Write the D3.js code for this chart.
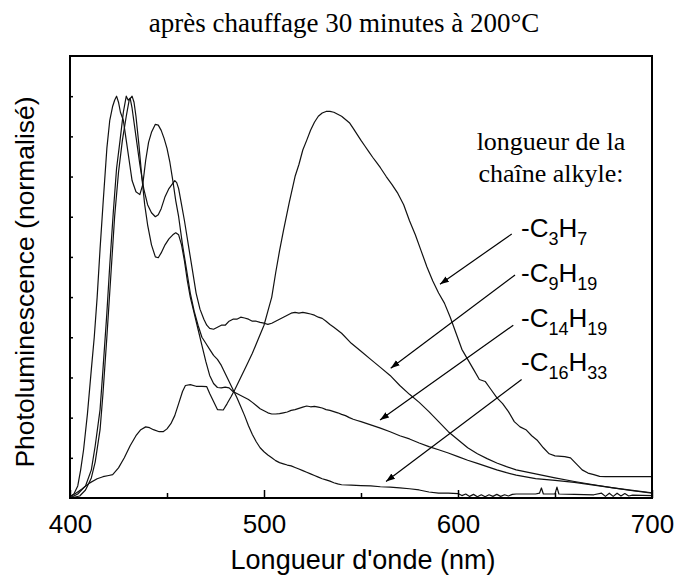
<!DOCTYPE html>
<html>
<head>
<meta charset="utf-8">
<script src="https://cdn.jsdelivr.net/npm/d3@7"></script>
<style>
  html, body { margin: 0; padding: 0; background: #fff; }
  svg { display: block; }
</style>
</head>
<body>
<svg id="chart" width="676" height="579"></svg>
<script>
// ---------- data ----------
const titleText = "après chauffage 30 minutes à 200°C";
const xLabel = "Longueur d'onde (nm)";
const yLabel = "Photoluminescence (normalisé)";
const xTickLabels = [400, 500, 600, 700];
const xMinorTicks = [450, 550, 650];
const yTicks = [0.1, 0.2, 0.3, 0.4, 0.5, 0.6, 0.7, 0.8, 0.9, 1.0];
const legendTitle = ["longueur de la", "chaîne alkyle:"];
const seriesNames = [["-C", "3", "H", "7"], ["-C", "9", "H", "19"], ["-C", "14", "H", "19"], ["-C", "16", "H", "33"]];

// [wavelength nm, normalised PL]
const c3h7 = [[400,0.003],[403,0.012],[406,0.022],[410,0.037],[414,0.048],[417,0.053],[420,0.056],[422,0.058],[425,0.075],[428,0.1],[431,0.13],[434,0.155],[436.5,0.17],[439,0.177],[441,0.175],[443,0.17],[446,0.165],[448,0.165],[450,0.172],[452,0.185],[454,0.205],[456,0.235],[458,0.265],[459.5,0.28],[462,0.282],[465,0.278],[468,0.278],[470.5,0.277],[472,0.26],[474,0.24],[476,0.22],[479,0.219],[481,0.235],[483,0.252],[485,0.27],[488,0.3],[491,0.33],[494,0.36],[497,0.395],[500,0.43],[502,0.465],[504,0.5],[506,0.56],[508,0.615],[510,0.665],[513,0.735],[516,0.8],[518,0.83],[520,0.866],[522,0.89],[524,0.915],[526,0.935],[528,0.95],[530,0.958],[532,0.962],[534,0.962],[536,0.96],[538,0.955],[540,0.95],[542,0.942],[544,0.934],[546,0.92],[548,0.905],[550,0.89],[552,0.876],[554,0.862],[556,0.848],[558,0.835],[560,0.822],[563,0.8],[566,0.78],[569,0.758],[572,0.73],[575,0.69],[578,0.655],[581,0.615],[584,0.575],[587,0.54],[590,0.51],[593,0.485],[596,0.45],[599,0.41],[602,0.37],[605,0.345],[608,0.32],[611,0.295],[614,0.29],[617,0.27],[620,0.25],[623,0.235],[626,0.215],[629,0.19],[632,0.177],[635,0.17],[638,0.155],[641,0.143],[644,0.125],[647,0.11],[650,0.105],[655,0.103],[658,0.1],[661,0.085],[664,0.07],[667,0.062],[670,0.058],[673,0.054],[676,0.053],[700,0.053]];

const c9h19 = [[400,0],[404,0.01],[408,0.03],[411,0.07],[413,0.13],[415.5,0.22],[417,0.32],[419,0.46],[420.5,0.58],[422.3,0.71],[424,0.82],[425.8,0.89],[427.5,0.96],[429,1.0],[430,0.99],[431,0.995],[432,0.97],[434,0.9],[436,0.83],[438,0.77],[440,0.73],[442,0.71],[444,0.7],[445.5,0.705],[447,0.72],[449,0.75],[451,0.77],[452.5,0.78],[454,0.79],[455,0.785],[456,0.77],[457.5,0.73],[459,0.69],[461,0.63],[463,0.57],[465,0.51],[467,0.47],[469,0.445],[470.5,0.43],[472,0.422],[474,0.42],[476,0.425],[478,0.43],[480,0.43],[482,0.44],[484,0.445],[486,0.445],[488,0.45],[490,0.448],[492,0.445],[494,0.44],[496,0.44],[498,0.437],[500,0.435],[502,0.432],[504,0.435],[506,0.44],[508,0.445],[510,0.45],[512,0.455],[514,0.46],[516,0.462],[518,0.46],[520,0.462],[522,0.46],[524,0.458],[526,0.455],[528,0.45],[530,0.447],[532,0.44],[534,0.432],[536,0.425],[540,0.41],[545,0.385],[550,0.365],[555,0.345],[560,0.325],[565,0.305],[570,0.28],[575,0.258],[580,0.238],[585,0.215],[590,0.19],[595,0.165],[600,0.145],[605,0.125],[610,0.11],[615,0.098],[620,0.087],[625,0.078],[630,0.07],[640,0.06],[650,0.05],[660,0.041],[670,0.033],[680,0.025],[690,0.018],[700,0.012]];

const c14h19 = [[400,0],[405,0.005],[408,0.02],[411,0.05],[413,0.09],[415.5,0.17],[417,0.26],[419,0.4],[421,0.55],[423,0.7],[425,0.81],[427,0.89],[429,0.95],[430.5,0.99],[432,1.0],[433,0.985],[434,0.95],[435.5,0.88],[437,0.8],[438.5,0.73],[440,0.68],[442,0.63],[444,0.6],[445.5,0.598],[447,0.61],[449,0.63],[451,0.645],[453,0.655],[454.5,0.66],[456,0.655],[457.5,0.63],[459,0.59],[460.5,0.54],[462,0.5],[464,0.46],[466,0.42],[468,0.38],[470,0.34],[472,0.305],[474,0.285],[476,0.275],[478,0.274],[480,0.276],[482,0.274],[484,0.265],[486,0.26],[488,0.255],[490,0.25],[492,0.245],[494,0.238],[496,0.23],[498,0.222],[500,0.217],[502,0.212],[504,0.209],[506,0.209],[508,0.21],[510,0.212],[512,0.214],[514,0.218],[516,0.22],[518,0.223],[520,0.226],[522,0.229],[524,0.227],[526,0.228],[528,0.226],[530,0.224],[532,0.22],[534,0.218],[536,0.215],[538,0.212],[540,0.208],[542,0.205],[544,0.2],[546,0.196],[548,0.193],[550,0.19],[555,0.182],[560,0.174],[565,0.165],[570,0.155],[575,0.147],[580,0.137],[585,0.128],[590,0.12],[595,0.112],[600,0.103],[605,0.094],[610,0.086],[615,0.078],[620,0.07],[625,0.063],[630,0.057],[640,0.048],[650,0.044],[660,0.039],[670,0.032],[680,0.025],[690,0.019],[700,0.013]];

const c16h33 = [[400,0.003],[402,0.01],[404,0.03],[405.5,0.07],[407,0.12],[409,0.21],[411,0.32],[412.5,0.4],[414,0.5],[415.5,0.62],[417,0.73],[419,0.87],[420.5,0.94],[422,0.975],[423,0.99],[424,1.0],[425,0.985],[426,0.96],[427.5,0.94],[429,0.89],[430.5,0.84],[432,0.79],[434,0.762],[436,0.755],[437.5,0.78],[439,0.84],[440.5,0.885],[442,0.91],[444,0.93],[445.5,0.928],[447,0.915],[448.5,0.895],[450,0.87],[451.5,0.835],[453,0.79],[454.5,0.74],[456,0.7],[458,0.63],[460,0.57],[462,0.51],[464,0.465],[466,0.43],[468,0.4],[470,0.385],[472,0.37],[474,0.355],[476,0.345],[478,0.33],[480,0.31],[482,0.29],[484,0.27],[486,0.25],[488,0.228],[490,0.205],[492,0.18],[494,0.158],[496,0.14],[498,0.125],[500,0.115],[502,0.107],[504,0.1],[506,0.093],[508,0.088],[510,0.085],[512,0.082],[514,0.08],[516,0.076],[518,0.072],[520,0.068],[522,0.064],[524,0.06],[526,0.056],[528,0.052],[530,0.048],[532,0.045],[534,0.042],[536,0.038],[538,0.035],[540,0.033],[545,0.032],[550,0.031],[555,0.03],[560,0.028],[565,0.027],[570,0.025],[575,0.023],[580,0.02],[585,0.015],[590,0.012],[595,0.012],[600,0.011],[602,0.006],[604,0.01],[606,0.004],[608,0.009],[610,0.003],[612,0.008],[614,0.003],[616,0.008],[618,0.004],[620,0.009],[622,0.004],[624,0.008],[626,0.005],[628,0.009],[630,0.01],[640,0.01],[642,0.012],[643,0.025],[644,0.01],[650,0.01],[651,0.027],[652,0.01],[660,0.009],[670,0.008],[674,0.012],[676,0.004],[678,0.012],[680,0.004],[682,0.012],[684,0.005],[686,0.011],[688,0.005],[690,0.007],[700,0.006]];

const series = [c3h7, c9h19, c14h19, c16h33];
// arrow annotations in data units: [x1, y1, x2, y2]
const arrows = [[627.7,0.657,590.7,0.532],[629.4,0.555,565.3,0.323],[628.5,0.43,559.8,0.194],[632.8,0.295,562.9,0.041]];

// ---------- layout ----------
const svg = d3.select("#chart");
const pL = 70, pR = 652, pT = 56, pB = 498;
const x = d3.scaleLinear().domain([400, 700]).range([pL, pR]);
const y = d3.scaleLinear().domain([0, 1.1]).range([pB, pT]);
const sans = "'Liberation Sans', Arial, Helvetica, sans-serif";
const serif = "'Liberation Serif', 'Times New Roman', Times, serif";

const defs = svg.append("defs");
defs.append("clipPath").attr("id", "clip")
  .append("rect").attr("x", pL).attr("y", pT).attr("width", pR - pL).attr("height", pB - pT);
defs.append("marker").attr("id", "ah").attr("viewBox", "0 0 10 10").attr("refX", 10).attr("refY", 5)
  .attr("markerWidth", 9).attr("markerHeight", 9).attr("markerUnits", "userSpaceOnUse").attr("orient", "auto")
  .append("path").attr("d", "M0,1.5 L10,5 L0,8.5 Z").attr("fill", "#000");

// curves
const line = d3.line().x(d => x(d[0])).y(d => y(d[1]));
svg.append("g").attr("clip-path", "url(#clip)")
  .selectAll("path").data(series).join("path")
  .attr("d", line).attr("fill", "none").attr("stroke", "#111").attr("stroke-width", 1.2)
  .attr("stroke-linejoin", "round");

// axes (ticks inward)
const xMajor = d3.axisBottom(x).tickValues(xTickLabels).tickSize(-8).tickPadding(17).tickFormat(d3.format("d"));
const gx = svg.append("g").attr("transform", `translate(0,${pB})`).call(xMajor);
gx.select(".domain").remove();
gx.selectAll("line").attr("stroke", "#000").attr("stroke-width", 1.5);
gx.selectAll("text").attr("font-family", sans).attr("font-size", 26).attr("fill", "#000");
const xMin = d3.axisBottom(x).tickValues(xMinorTicks).tickSize(-5).tickFormat("");
const gxm = svg.append("g").attr("transform", `translate(0,${pB})`).call(xMin);
gxm.select(".domain").remove();
gxm.selectAll("line").attr("stroke", "#000").attr("stroke-width", 1.5);

const yAx = d3.axisLeft(y).tickValues(yTicks).tickSize(-3).tickFormat("");
const gy = svg.append("g").attr("transform", `translate(${pL},0)`).call(yAx);
gy.select(".domain").remove();
gy.selectAll("line").attr("stroke", "#000").attr("stroke-width", 1.5);

// frame
svg.append("rect").attr("x", pL).attr("y", pT).attr("width", pR - pL).attr("height", pB - pT)
  .attr("fill", "none").attr("stroke", "#000").attr("stroke-width", 2);

// title and axis labels
svg.append("text").attr("x", 344).attr("y", 32).attr("text-anchor", "middle")
  .attr("font-family", serif).attr("font-size", 27).text(titleText);
svg.append("text").attr("x", 363).attr("y", 569).attr("text-anchor", "middle")
  .attr("font-family", sans).attr("font-size", 27).text(xLabel);
svg.append("text").attr("transform", "translate(34,282) rotate(-90)").attr("text-anchor", "middle")
  .attr("font-family", sans).attr("font-size", 26.5).text(yLabel);

// legend block
svg.append("g").selectAll("text").data(legendTitle).join("text")
  .attr("x", 551).attr("y", (d, i) => 150 + i * 32).attr("text-anchor", "middle")
  .attr("font-family", serif).attr("font-size", 26).text(d => d);

const fl = svg.append("g").selectAll("text").data(seriesNames).join("text")
  .attr("x", 521).attr("y", (d, i) => 237 + i * 44.8)
  .attr("font-family", sans).attr("font-size", 26);
fl.each(function(d) {
  const t = d3.select(this);
  t.append("tspan").text(d[0]);
  t.append("tspan").attr("font-size", 18).attr("dy", 8).text(d[1]);
  t.append("tspan").attr("dy", -8).text(d[2]);
  t.append("tspan").attr("font-size", 18).attr("dy", 8).text(d[3]);
});

// arrows
svg.append("g").selectAll("line").data(arrows).join("line")
  .attr("x1", d => x(d[0])).attr("y1", d => y(d[1]))
  .attr("x2", d => x(d[2])).attr("y2", d => y(d[3]))
  .attr("stroke", "#000").attr("stroke-width", 1.2).attr("marker-end", "url(#ah)");
</script>
</body>
</html>
